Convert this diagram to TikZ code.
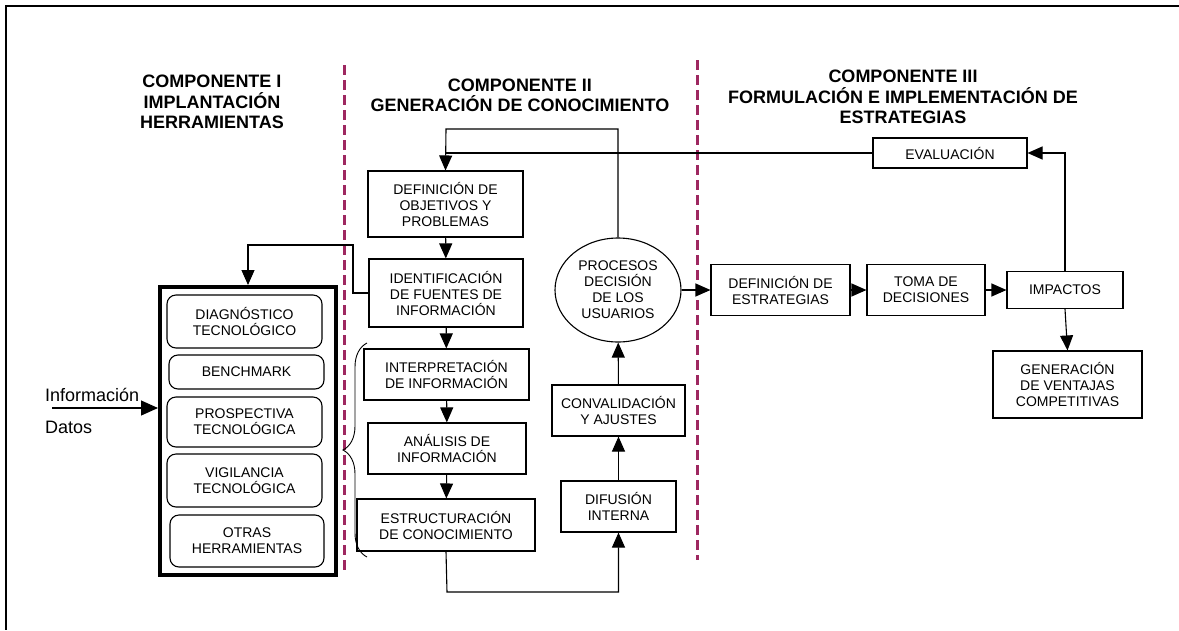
\documentclass[tikz,border=0pt]{standalone}
\usepackage{fontspec}
\setmainfont{Liberation Sans}
\usetikzlibrary{arrows.meta,shapes.geometric,decorations.pathreplacing}

\definecolor{guion}{RGB}{158,40,96}

\begin{document}
\begin{tikzpicture}[x=1pt,y=-1pt,
  caja/.style={draw,line width=1.1pt,align=center,inner sep=0pt,font=\fontsize{14}{16}\selectfont},
  herram/.style={caja,rounded corners=9pt},
  flecha/.style={line width=1.1pt,-{Triangle[length=15pt,width=13pt]}},
  linea/.style={line width=1.1pt},
  titulo/.style={align=center,font=\bfseries\fontsize{18}{20.5}\selectfont},
  division/.style={guion,line width=3pt,dash pattern=on 10pt off 5pt}]
\useasboundingbox (0,0) rectangle (1179,630);
\draw[line width=2pt] (1179,6) -- (6,6) -- (6,630);

% titulos y divisiones
\node[titulo] (tit1) at (212,102) {COMPONENTE I\\IMPLANTACIÓN\\HERRAMIENTAS};
\node[titulo] (tit2) at (520,95.5) {COMPONENTE II\\GENERACIÓN DE CONOCIMIENTO};
\node[titulo] (tit3) at (903,97) {COMPONENTE III\\FORMULACIÓN E IMPLEMENTACIÓN DE\\ESTRATEGIAS};
\draw[division] (344,65) -- (344,573);
\draw[division] (697,60) -- (697,560);

% componente I
\node[draw,line width=4pt,minimum width=176,minimum height=288] (herr) at (248,431) {};
\node[herram,minimum width=155,minimum height=53] (diag) at (244.5,321.5) {DIAGNÓSTICO\\TECNOLÓGICO};
\node[herram,minimum width=155,minimum height=34] (bench) at (246.5,372) {BENCHMARK};
\node[herram,minimum width=155,minimum height=50] (prosp) at (244.5,422) {PROSPECTIVA\\TECNOLÓGICA};
\node[herram,minimum width=155,minimum height=53] (vigil) at (244.5,480.5) {VIGILANCIA\\TECNOLÓGICA};
\node[herram,minimum width=154,minimum height=52] (otras) at (247,541) {OTRAS\\HERRAMIENTAS};
\node[anchor=west,inner sep=0pt,font=\fontsize{18}{20}\selectfont] (info) at (45,395) {Información};
\node[anchor=west,inner sep=0pt,font=\fontsize{18}{20}\selectfont] (datos) at (45,427) {Datos};
\coordinate (entrada) at (52,408);
\draw[line width=1.1pt,-{Triangle[length=17pt,width=15pt]}] (entrada) -- (entrada -| herr.west);

% componente II
\node[caja,minimum width=155,minimum height=66] (defobj) at (445.5,204) {DEFINICIÓN DE\\OBJETIVOS Y\\PROBLEMAS};
\node[caja,minimum width=154,minimum height=68] (ident) at (446,293) {IDENTIFICACIÓN\\DE FUENTES DE\\INFORMACIÓN};
\node[caja,minimum width=165,minimum height=51] (interp) at (446.5,374.5) {INTERPRETACIÓN\\DE INFORMACIÓN};
\node[caja,minimum width=158,minimum height=51] (anal) at (447,448.5) {ANÁLISIS DE\\INFORMACIÓN};
\node[caja,minimum width=178,minimum height=52] (estruc) at (446,525) {ESTRUCTURACIÓN\\DE CONOCIMIENTO};
\node[caja,minimum width=115,minimum height=51] (difus) at (618.5,506.5) {DIFUSIÓN\\INTERNA};
\node[caja,minimum width=133,minimum height=51] (conval) at (618.5,410.5) {CONVALIDACIÓN\\Y AJUSTES};
\node[caja,ellipse,minimum width=126,minimum height=104] (proc) at (618,290) {PROCESOS\\DECISIÓN\\DE LOS\\USUARIOS};
\draw[decorate,decoration={brace,amplitude=24pt},line width=0.9pt] (367,557) -- (367,343);

% componente III
\node[caja,minimum width=154,minimum height=30] (evalua) at (950,153) {EVALUACIÓN};
\node[caja,minimum width=139,minimum height=51] (defest) at (780.5,290) {DEFINICIÓN DE\\ESTRATEGIAS};
\node[caja,minimum width=118,minimum height=51] (toma) at (926,290) {TOMA DE\\DECISIONES};
\node[caja,minimum width=116,minimum height=37] (impac) at (1065,290) {IMPACTOS};
\node[caja,minimum width=149,minimum height=67] (genven) at (1067.5,384.5) {GENERACIÓN\\DE VENTAJAS\\COMPETITIVAS};

% conexiones
\coordinate (arriba) at (446,129);
\coordinate (abajo) at (447,592);
\coordinate (codo) at (353,245);
\draw[flecha] (proc.north) |- (arriba) -- (defobj.north);
\draw[linea] (evalua.west) -- (defobj.north |- evalua.west);
\draw[flecha] (defobj) -- (ident);
\draw[flecha] (ident) -- (interp);
\draw[flecha] (interp) -- (anal);
\draw[flecha] (anal) -- (estruc);
\draw[flecha] (estruc.south) -- (abajo) -| (difus.south);
\draw[flecha] (difus) -- (conval);
\draw[flecha] (conval) -- (proc);
\draw[flecha] (ident.west) -| (codo) -| (herr.north);
\draw[flecha] (proc) -- (defest);
\draw[flecha] (defest) -- (toma);
\draw[flecha] (toma) -- (impac);
\draw[flecha] (impac.north) |- (evalua.east);
\draw[flecha] (impac.south) -- (genven.north);
\end{tikzpicture}
\end{document}
